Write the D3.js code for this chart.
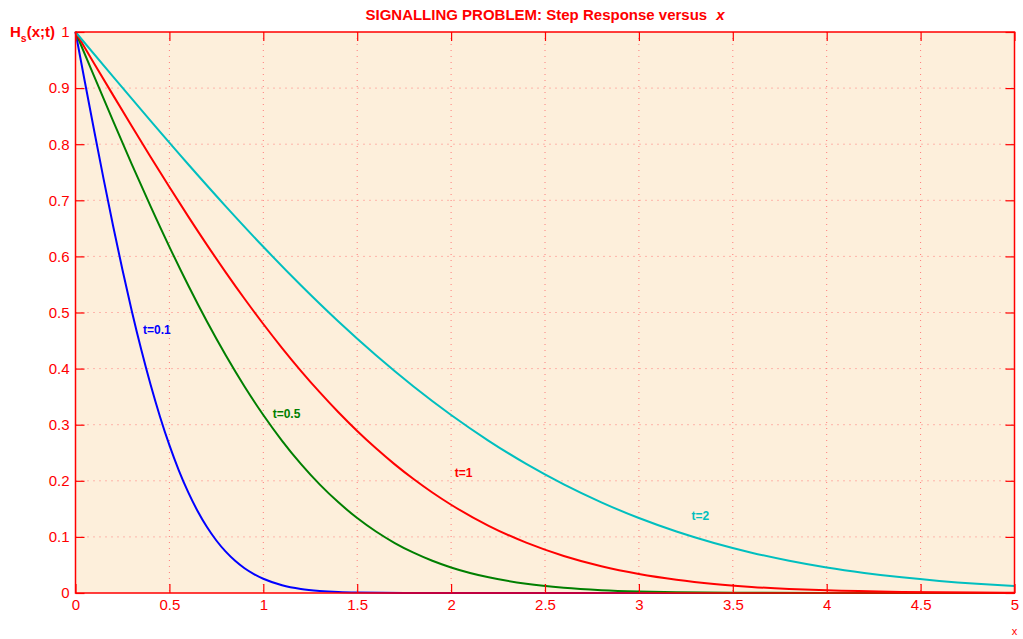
<!DOCTYPE html>
<html>
<head>
<meta charset="utf-8">
<script src="https://cdn.jsdelivr.net/npm/d3@7"></script>
<style>
  body { margin: 0; background: #fff; }
  svg { font-family: "Liberation Sans", Arial, sans-serif; }
</style>
</head>
<body>
<div id="chart"></div>
<script>
// values, one pair of arrays per curve

var x01 = [0, 0.05, 0.1, 0.15, 0.2, 0.25, 0.3, 0.35, 0.4, 0.45, 0.5, 0.55, 0.6, 0.65, 0.7, 0.75, 0.8, 0.85, 0.9, 0.95, 1.0, 1.1, 1.2, 1.3, 1.4, 1.5, 1.75, 2.0, 3.0, 4.0, 5.0];
var y01 = [1, 0.9109, 0.8231, 0.7373, 0.6547, 0.5761, 0.5024, 0.4339, 0.3711, 0.3143, 0.2635, 0.2187, 0.1797, 0.1461, 0.1175, 0.0936, 0.0737, 0.0574, 0.0441, 0.0337, 0.0254, 0.0139, 0.0073, 0.0037, 0.0017, 0.0008, 0.0001, 0, 0, 0, 0];

var x05 = [0, 0.1, 0.2, 0.3, 0.4, 0.5, 0.6, 0.7, 0.8, 0.9, 1.0, 1.1, 1.2, 1.3, 1.4, 1.5, 1.6, 1.7, 1.8, 1.9, 2.0, 2.2, 2.4, 2.6, 2.8, 3.0, 3.2, 3.5, 4.0, 4.5, 5.0];
var y05 = [1, 0.9203, 0.8415, 0.7642, 0.6892, 0.6171, 0.5485, 0.4839, 0.4237, 0.3681, 0.3173, 0.2713, 0.2301, 0.1936, 0.1616, 0.1336, 0.1096, 0.0891, 0.0719, 0.0575, 0.0455, 0.0279, 0.0164, 0.0093, 0.0051, 0.0027, 0.0014, 0.0005, 0.0001, 0, 0];

var x1 = [0, 0.1, 0.2, 0.3, 0.4, 0.5, 0.6, 0.7, 0.8, 0.9, 1.0, 1.1, 1.2, 1.3, 1.4, 1.5, 1.6, 1.7, 1.8, 1.9, 2.0, 2.2, 2.4, 2.6, 2.8, 3.0, 3.2, 3.4, 3.6, 3.8, 4.0, 4.4, 4.8, 5.0];
var y1 = [1, 0.9436, 0.8875, 0.8320, 0.7773, 0.7237, 0.6714, 0.6206, 0.5716, 0.5245, 0.4795, 0.4367, 0.3961, 0.3580, 0.3222, 0.2888, 0.2579, 0.2293, 0.2031, 0.1791, 0.1573, 0.1198, 0.0897, 0.0660, 0.0477, 0.0339, 0.0237, 0.0162, 0.0109, 0.0072, 0.0047, 0.0019, 0.0007, 0.0004];

var x2 = [0, 0.2, 0.4, 0.6, 0.8, 1.0, 1.2, 1.4, 1.6, 1.8, 2.0, 2.2, 2.4, 2.6, 2.8, 3.0, 3.2, 3.4, 3.6, 3.8, 4.0, 4.2, 4.4, 4.6, 4.8, 5.0];
var y2 = [1, 0.9203, 0.8415, 0.7642, 0.6892, 0.6171, 0.5485, 0.4839, 0.4237, 0.3681, 0.3173, 0.2713, 0.2301, 0.1936, 0.1616, 0.1336, 0.1096, 0.0891, 0.0719, 0.0575, 0.0455, 0.0358, 0.0279, 0.0215, 0.0164, 0.0124];

var seriesNames = ["t=0.1", "t=0.5", "t=1", "t=2"];
var seriesColors = ["#0000ff", "#007f00", "#ff0000", "#00bfbf"];
var seriesX = [x01, x05, x1, x2];
var seriesY = [y01, y05, y1, y2];
// where each curve label sits, in data units
var labelX = [0.36, 1.05, 2.02, 3.28];
var labelY = [0.47, 0.32, 0.215, 0.137];

var xTicks = [0, 0.5, 1, 1.5, 2, 2.5, 3, 3.5, 4, 4.5, 5];
var yTicks = [0, 0.1, 0.2, 0.3, 0.4, 0.5, 0.6, 0.7, 0.8, 0.9, 1];

var W = 1023, H = 639;
var margin = {top: 32, right: 8.5, bottom: 46, left: 75.5},
    width = W - margin.left - margin.right,
    height = H - margin.top - margin.bottom;

var red = "#ff0000";

var svg = d3.select("#chart").append("svg")
    .attr("width", W)
    .attr("height", H);

var g = svg.append("g")
    .attr("transform", "translate(" + margin.left + "," + margin.top + ")");

var x = d3.scaleLinear().domain([0, 5]).range([0, width]);
var y = d3.scaleLinear().domain([0, 1]).range([height, 0]);

g.append("rect")
    .attr("width", width)
    .attr("height", height)
    .attr("fill", "#fdefdb");

// dotted grid
g.append("g").selectAll("line")
    .data(xTicks.slice(1, -1))
    .join("line")
    .attr("x1", d => x(d)).attr("x2", d => x(d))
    .attr("y1", 0).attr("y2", height)
    .attr("stroke", "#ff7a7a")
    .attr("stroke-dasharray", "1,5");

g.append("g").selectAll("line")
    .data(yTicks.slice(1, -1))
    .join("line")
    .attr("y1", d => y(d)).attr("y2", d => y(d))
    .attr("x1", 0).attr("x2", width)
    .attr("stroke", "#ff7a7a")
    .attr("stroke-dasharray", "1,5");

// curves
var line = d3.line()
    .x(d => x(d[0]))
    .y(d => y(d[1]))
    .curve(d3.curveMonotoneX);

seriesNames.forEach(function(name, i) {
    var pts = seriesX[i].map((v, j) => [v, seriesY[i][j]]);
    g.append("path")
        .datum(pts)
        .attr("fill", "none")
        .attr("stroke", seriesColors[i])
        .attr("stroke-width", 2)
        .attr("d", line);

    g.append("text")
        .attr("x", x(labelX[i]))
        .attr("y", y(labelY[i]))
        .attr("dy", "0.35em")
        .attr("fill", seriesColors[i])
        .attr("font-size", 12)
        .attr("font-weight", "bold")
        .text(name);
});

// axes, ticks inward on all four sides
function styleAxis(a) {
    a.select(".domain").remove();
    a.selectAll("line").attr("stroke", red).attr("stroke-width", 1.2);
    a.selectAll("text").attr("fill", red).attr("font-size", 15)
        .attr("font-family", "Liberation Sans, Arial, sans-serif");
}

var fmt = d => String(d);

g.append("g")
    .attr("transform", "translate(0," + height + ")")
    .call(d3.axisBottom(x).tickValues(xTicks).tickFormat(fmt).tickSizeInner(-9).tickSizeOuter(0).tickPadding(6))
    .call(styleAxis);

g.append("g")
    .call(d3.axisTop(x).tickValues(xTicks).tickSizeInner(-9).tickSizeOuter(0).tickFormat(""))
    .call(styleAxis);

g.append("g")
    .call(d3.axisLeft(y).tickValues(yTicks).tickFormat(fmt).tickSizeInner(-9).tickSizeOuter(0).tickPadding(6))
    .call(styleAxis);

g.append("g")
    .attr("transform", "translate(" + width + ",0)")
    .call(d3.axisRight(y).tickValues(yTicks).tickSizeInner(-9).tickSizeOuter(0).tickFormat(""))
    .call(styleAxis);

g.append("rect")
    .attr("width", width)
    .attr("height", height)
    .attr("fill", "none")
    .attr("stroke", red)
    .attr("stroke-width", 1.5);

// title and axis labels
var title = svg.append("text")
    .attr("x", margin.left + width / 2)
    .attr("y", 20)
    .attr("text-anchor", "middle")
    .attr("fill", red)
    .attr("font-size", 15)
    .attr("font-weight", "bold");
title.append("tspan").text("SIGNALLING PROBLEM: Step Response versus");
title.append("tspan").attr("font-style", "italic").attr("dx", 9).text("x");

var yl = svg.append("text")
    .attr("x", 10)
    .attr("y", 37)
    .attr("fill", red)
    .attr("font-size", 15)
    .attr("font-weight", "bold");
yl.append("tspan").text("H");
yl.append("tspan").attr("font-size", 10.5).attr("dy", 5).text("s");
yl.append("tspan").attr("dy", -5).text("(x;t)");

svg.append("text")
    .attr("x", margin.left + width)
    .attr("y", 635)
    .attr("text-anchor", "middle")
    .attr("fill", red)
    .attr("font-size", 11)
    .text("x");
</script>
</body>
</html>
